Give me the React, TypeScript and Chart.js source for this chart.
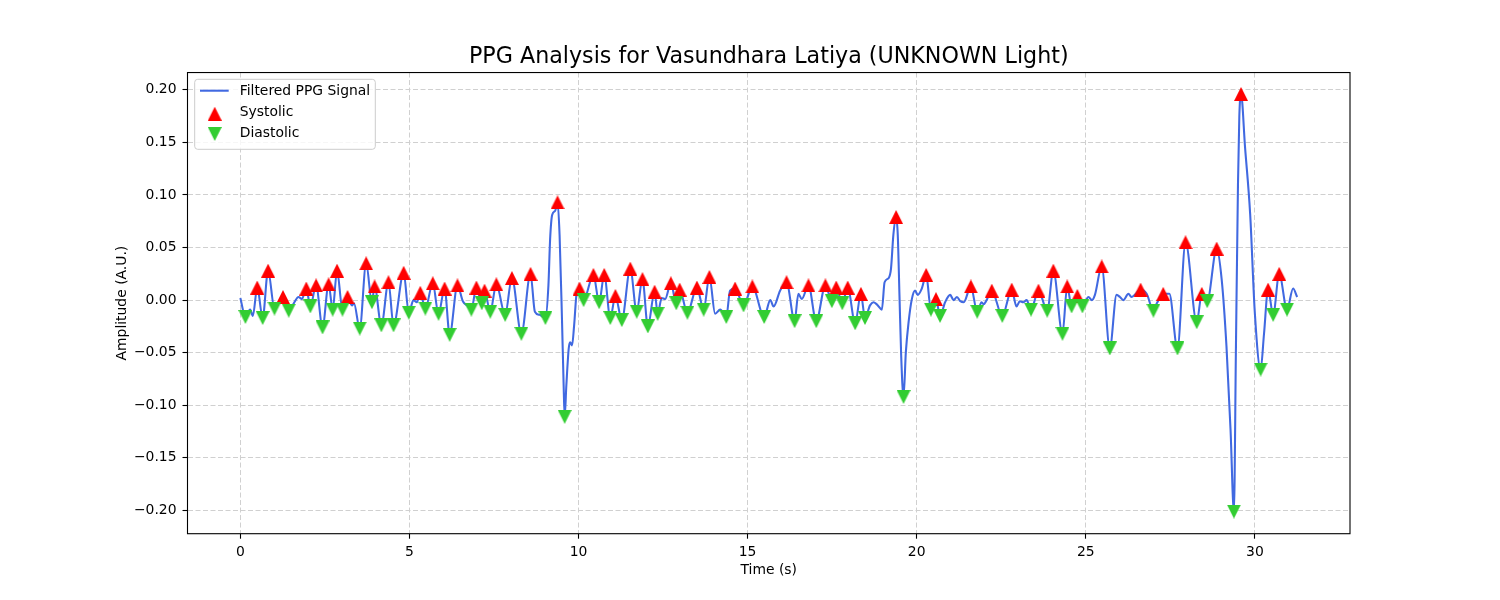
import React, { useEffect, useRef } from "react";
import { Chart, registerables } from "chart.js";

Chart.register(...registerables);

const chartTitle = "PPG Analysis for Vasundhara Latiya (UNKNOWN Light)";
const xAxisTitle = "Time (s)";
const yAxisTitle = "Amplitude (A.U.)";
const seriesLabels = ["Filtered PPG Signal", "Systolic", "Diastolic"];
const xTickValues = [0, 5, 10, 15, 20, 25, 30];
const yTickValues = [-0.2, -0.15, -0.1, -0.05, 0, 0.05, 0.1, 0.15, 0.2];

// Systolic peaks (red up-triangles)
const systolicTime = [0.50, 0.82, 1.26, 1.95, 2.24, 2.61, 2.86, 3.17, 3.72, 3.97, 4.38, 4.83, 5.32, 5.69, 6.04, 6.42, 6.98, 7.22, 7.57, 8.03, 8.58, 9.38, 10.03, 10.44, 10.76, 11.09, 11.53, 11.89, 12.25, 12.73, 12.99, 13.50, 13.87, 14.63, 15.14, 16.15, 16.80, 17.30, 17.62, 17.96, 18.35, 19.39, 20.28, 20.57, 21.60, 22.22, 22.81, 23.60, 24.04, 24.45, 24.75, 25.47, 26.62, 27.29, 27.95, 28.43, 28.87, 29.59, 30.39, 30.72];
const systolicAmp = [0.012, 0.028, 0.003, 0.011, 0.014, 0.015, 0.028, 0.003, 0.035, 0.013, 0.017, 0.026, 0.007, 0.016, 0.011, 0.014, 0.012, 0.009, 0.015, 0.021, 0.025, 0.093, 0.011, 0.024, 0.024, 0.004, 0.030, 0.020, 0.008, 0.016, 0.010, 0.012, 0.022, 0.011, 0.013, 0.017, 0.014, 0.014, 0.012, 0.012, 0.006, 0.079, 0.024, 0.001, 0.013, 0.009, 0.010, 0.009, 0.028, 0.013, 0.004, 0.032, 0.010, 0.006, 0.055, 0.006, 0.049, 0.196, 0.010, 0.025];

// Diastolic points (green down-triangles)
const diastolicTime = [0.15, 0.66, 1.01, 1.43, 2.07, 2.43, 2.73, 3.02, 3.53, 3.89, 4.17, 4.53, 4.98, 5.47, 5.86, 6.19, 6.83, 7.14, 7.39, 7.83, 8.31, 9.02, 9.59, 10.15, 10.61, 10.94, 11.28, 11.72, 12.05, 12.34, 12.89, 13.22, 13.70, 14.37, 14.88, 15.49, 16.39, 17.03, 17.49, 17.80, 18.18, 18.47, 19.61, 20.42, 20.69, 21.79, 22.53, 23.38, 23.86, 24.31, 24.58, 24.90, 25.71, 27.00, 27.71, 28.28, 28.59, 29.38, 30.17, 30.54, 30.95];
const diastolicAmp = [-0.016, -0.017, -0.008, -0.010, -0.006, -0.026, -0.009, -0.009, -0.027, -0.002, -0.024, -0.024, -0.012, -0.008, -0.013, -0.033, -0.009, -0.003, -0.011, -0.014, -0.032, -0.017, -0.111, 0.000, -0.002, -0.017, -0.019, -0.011, -0.025, -0.013, -0.003, -0.012, -0.009, -0.016, -0.005, -0.016, -0.020, -0.020, -0.001, -0.003, -0.022, -0.017, -0.092, -0.009, -0.015, -0.011, -0.015, -0.009, -0.010, -0.032, -0.006, -0.006, -0.046, -0.010, -0.046, -0.021, -0.001, -0.201, -0.066, -0.014, -0.009];

// Additional samples of the filtered signal between the marked points
const signalTime = [0.00, 0.29, 0.37, 1.58, 1.72, 1.82, 3.30, 3.36, 5.12, 5.22, 6.58, 6.70, 8.71, 8.85, 9.11, 9.16, 9.22, 9.31, 9.44, 9.51, 9.56, 9.64, 9.71, 9.75, 9.81, 9.87, 9.95, 12.46, 12.56, 14.04, 14.19, 14.48, 15.67, 15.77, 15.96, 16.50, 16.60, 18.62, 18.72, 18.82, 18.97, 19.05, 19.17, 19.24, 19.31, 19.44, 19.49, 19.54, 19.68, 19.76, 19.85, 19.95, 20.03, 20.15, 20.84, 20.99, 21.09, 21.19, 21.29, 21.39, 21.92, 21.98, 22.05, 22.95, 23.05, 23.15, 23.25, 25.08, 25.18, 25.27, 25.91, 26.01, 26.11, 26.26, 26.35, 26.45, 26.80, 27.10, 27.47, 29.02, 29.16, 29.28, 29.44, 29.50, 29.54, 29.71, 29.86, 30.00, 30.27, 31.13, 31.25];
const signalAmp = [0.002, -0.009, -0.015, -0.003, 0.003, 0.001, -0.005, -0.003, 0.000, -0.002, -0.001, -0.005, -0.011, -0.014, 0.014, 0.058, 0.081, 0.085, 0.062, -0.017, -0.081, -0.081, -0.046, -0.040, -0.043, -0.024, 0.008, 0.002, 0.001, -0.013, -0.009, 0.009, 0.000, -0.006, 0.009, 0.006, 0.001, -0.005, -0.002, -0.004, -0.009, 0.017, 0.021, 0.030, 0.062, 0.062, 0.005, -0.052, -0.049, -0.021, 0.000, 0.009, 0.005, 0.011, -0.002, 0.005, 0.000, 0.003, -0.001, -0.002, -0.002, -0.004, -0.001, -0.006, -0.001, -0.002, 0.000, 0.003, 0.000, 0.005, 0.005, 0.003, 0.000, 0.006, 0.003, 0.005, 0.006, -0.003, 0.006, 0.019, -0.044, -0.123, -0.044, 0.110, 0.175, 0.145, 0.082, -0.013, -0.032, 0.011, 0.003];

const xLimits = [-1.5625, 32.8125];
const yLimits = [-0.2221, 0.2164];

const LINE_COLOR = "#4169E1";
const SYS_COLOR = "#ff0000";
const DIA_COLOR = "#32cd32";
const FONT = "DejaVu Sans";
const FS = 13.9;

function makeTriangle(color: string, up: boolean, size = 14): HTMLCanvasElement {
  const c = document.createElement("canvas");
  c.width = size;
  c.height = size;
  const g = c.getContext("2d")!;
  g.fillStyle = color;
  g.beginPath();
  if (up) {
    g.moveTo(size / 2, 0);
    g.lineTo(size, size);
    g.lineTo(0, size);
  } else {
    g.moveTo(0, 0);
    g.lineTo(size, 0);
    g.lineTo(size / 2, size);
  }
  g.closePath();
  g.fill();
  return c;
}

const fmtY = (v: number) => {
  const s = Math.abs(v).toFixed(2);
  return v < -1e-9 ? "\u2212" + s : s;
};

export default function App() {
  const ref = useRef<HTMLCanvasElement>(null);

  useEffect(() => {
    const canvas = ref.current;
    if (!canvas) return;
    const upTri = makeTriangle(SYS_COLOR, true);
    const downTri = makeTriangle(DIA_COLOR, false);

    const sysPts = systolicTime.map((t, i) => ({ x: t, y: systolicAmp[i] }));
    const diaPts = diastolicTime.map((t, i) => ({ x: t, y: diastolicAmp[i] }));
    const extraPts = signalTime.map((t, i) => ({ x: t, y: signalAmp[i] }));
    const signalPts = [...extraPts, ...sysPts, ...diaPts].sort((a, b) => a.x - b.x);

    const framePlugin = {
      id: "frame",
      afterDraw(chart: any) {
        const { ctx, chartArea: a } = chart;
        ctx.save();
        ctx.strokeStyle = "#000";
        ctx.lineWidth = 1.1;
        ctx.strokeRect(a.left, a.top, a.right - a.left, a.bottom - a.top);
        ctx.restore();
      },
    };

    const legendPlugin = {
      id: "innerLegend",
      afterDraw(chart: any) {
        const ctx = chart.ctx as CanvasRenderingContext2D;
        const bx = 194.7, by = 79.3, bw = 180.6, bh = 70, r = 3;
        ctx.save();
        ctx.beginPath();
        ctx.moveTo(bx + r, by);
        ctx.lineTo(bx + bw - r, by);
        ctx.arcTo(bx + bw, by, bx + bw, by + r, r);
        ctx.lineTo(bx + bw, by + bh - r);
        ctx.arcTo(bx + bw, by + bh, bx + bw - r, by + bh, r);
        ctx.lineTo(bx + r, by + bh);
        ctx.arcTo(bx, by + bh, bx, by + bh - r, r);
        ctx.lineTo(bx, by + r);
        ctx.arcTo(bx, by, bx + r, by, r);
        ctx.closePath();
        ctx.fillStyle = "rgba(255,255,255,0.8)";
        ctx.fill();
        ctx.strokeStyle = "#cccccc";
        ctx.lineWidth = 1;
        ctx.stroke();

        ctx.strokeStyle = LINE_COLOR;
        ctx.lineWidth = 2.08;
        ctx.beginPath();
        ctx.moveTo(200, 90.7);
        ctx.lineTo(228.7, 90.7);
        ctx.stroke();

        ctx.drawImage(upTri, 214.7 - upTri.width / 2, 113.7 - upTri.height / 2);
        ctx.drawImage(downTri, 214.7 - downTri.width / 2, 134 - downTri.height / 2);

        ctx.fillStyle = "#000";
        ctx.font = `${FS}px "${FONT}"`;
        ctx.textAlign = "left";
        ctx.textBaseline = "alphabetic";
        ctx.fillText(seriesLabels[0], 239.7, 94.8);
        ctx.fillText(seriesLabels[1], 239.7, 116);
        ctx.fillText(seriesLabels[2], 239.7, 137.2);
        ctx.restore();
      },
    };

    const gridOpts = {
      color: "#d0d0d0",
      lineWidth: 1,
      tickLength: 5,
      tickColor: "#000",
      tickWidth: 1.1,
      drawTicks: true,
    };
    const tickFont = { family: FONT, size: FS };

    const chart = new Chart(canvas, {
      type: "line",
      data: {
        datasets: [
          {
            label: seriesLabels[2],
            data: diaPts,
            showLine: false,
            pointStyle: downTri as any,
            pointRadius: 7,
            pointHoverRadius: 7,
            borderWidth: 0,
            order: 0,
          },
          {
            label: seriesLabels[1],
            data: sysPts,
            showLine: false,
            pointStyle: upTri as any,
            pointRadius: 7,
            pointHoverRadius: 7,
            borderWidth: 0,
            order: 1,
          },
          {
            label: seriesLabels[0],
            data: signalPts,
            borderColor: LINE_COLOR,
            borderWidth: 2.08,
            pointRadius: 0,
            pointHoverRadius: 0,
            cubicInterpolationMode: "monotone",
            fill: false,
            order: 2,
          },
        ],
      },
      options: {
        responsive: false,
        animation: false,
        events: [],
        layout: { padding: { left: 0, right: 150, top: 0, bottom: 0 } },
        plugins: {
          legend: { display: false },
          tooltip: { enabled: false },
          title: {
            display: true,
            fullSize: false,
            text: chartTitle,
            color: "#000",
            font: { family: FONT, size: 22.2, weight: "normal", lineHeight: 1.2 },
            padding: { top: 44.3, bottom: 1.6 },
          },
        },
        scales: {
          x: {
            type: "linear",
            min: xLimits[0],
            max: xLimits[1],
            afterBuildTicks: (axis: any) => {
              axis.ticks = xTickValues.map((v) => ({ value: v }));
            },
            afterFit: (axis: any) => {
              axis.height = 66.3;
            },
            ticks: {
              autoSkip: false,
              maxRotation: 0,
              padding: 5,
              color: "#000",
              font: tickFont,
              callback: (v: any) => String(v),
            },
            grid: gridOpts,
            border: { display: false, dash: [5, 2.5] },
            title: {
              display: true,
              text: xAxisTitle,
              color: "#000",
              font: { family: FONT, size: FS, lineHeight: 1.2 },
              padding: { top: 0, bottom: 20.8 },
            },
          },
          y: {
            type: "linear",
            min: yLimits[0],
            max: yLimits[1],
            afterBuildTicks: (axis: any) => {
              axis.ticks = yTickValues.map((v) => ({ value: v }));
            },
            afterFit: (axis: any) => {
              axis.width = 187.5;
            },
            ticks: {
              autoSkip: false,
              padding: 6,
              color: "#000",
              font: tickFont,
              callback: (v: any) => fmtY(Number(v)),
            },
            grid: gridOpts,
            border: { display: false, dash: [5, 2.5] },
            title: {
              display: true,
              text: yAxisTitle,
              color: "#000",
              font: { family: FONT, size: FS, lineHeight: 1.2 },
              padding: { top: 114.3, bottom: 0 },
            },
          },
        },
      } as any,
      plugins: [framePlugin, legendPlugin],
    });

    return () => chart.destroy();
  }, []);

  return (
    <div style={{ position: "absolute", left: 0, top: 0, width: 1500, height: 600, background: "#fff" }}>
      <canvas ref={ref} width={1500} height={600} style={{ display: "block", width: 1500, height: 600 }} />
    </div>
  );
}
